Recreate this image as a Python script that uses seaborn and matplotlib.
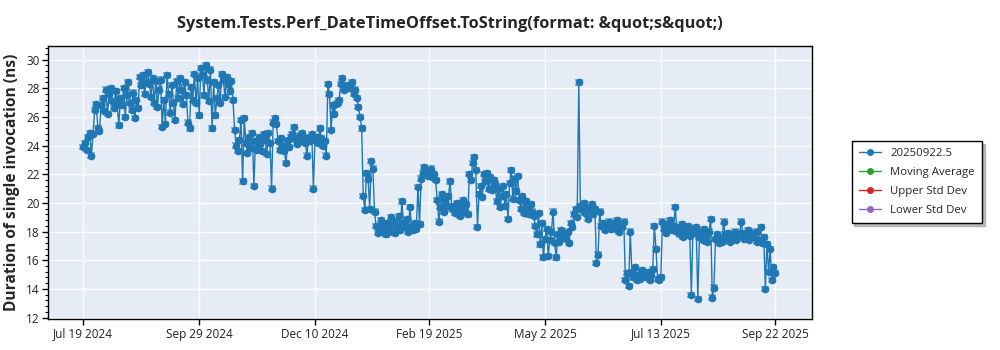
import numpy as np
import pandas as pd
import matplotlib
matplotlib.use("Agg")
import matplotlib.pyplot as plt
import matplotlib.dates as mdates
from matplotlib.ticker import MultipleLocator, AutoMinorLocator
from matplotlib.lines import Line2D
import seaborn as sns

TITLE = "System.Tests.Perf_DateTimeOffset.ToString(format: &quot;s&quot;)"
Y_LABEL = "Duration of single invocation (ns)"
SERIES_NAME = "20250922.5"
LEGEND_LABELS = ["20250922.5", "Moving Average", "Upper Std Dev", "Lower Std Dev"]
LEGEND_COLORS = ["#1f77b4", "#2ca02c", "#d62728", "#9467bd"]
START_DATE = "2024-07-19"
X_TICKS = ["2024-07-19", "2024-09-29", "2024-12-10", "2025-02-19",
           "2025-05-02", "2025-07-13", "2025-09-22"]
X_TICK_LABELS = ["Jul 19 2024", "Sep 29 2024", "Dec 10 2024", "Feb 19 2025",
                 "May 2 2025", "Jul 13 2025", "Sep 22 2025"]
X_LIMITS = ["2024-06-27", "2025-10-15"]
Y_LIMITS = [11.89, 30.93]
ERR = 0.15

# one value per day
values = [
    23.9, 24.2, 23.7, 24.6, 24.9, 23.3, 24.8, 26.5, 26.9, 25.2,
    25.0, 26.8, 27.3, 26.4, 27.9, 26.2, 27.6, 28.0, 27.1, 26.6,
    27.8, 26.9, 25.4, 27.3, 26.8, 28.0, 26.0, 27.5, 28.4, 27.0,
    26.5, 27.7, 25.9, 27.2, 26.6, 28.8, 28.2, 28.9, 27.6, 28.4,
    29.1, 28.3, 27.4, 28.7, 27.0, 28.5, 26.7, 27.9, 28.6, 25.3,
    27.2, 25.5, 28.9, 27.6, 26.3, 28.2, 27.0, 25.8, 28.5, 27.3,
    28.7, 27.9, 26.9, 28.4, 27.5, 25.6, 25.2, 28.1, 27.2, 29.0,
    27.0, 28.7, 26.1, 29.4, 28.9, 27.5, 29.6, 28.6, 27.1, 29.3,
    25.2, 28.4, 26.1, 27.3, 28.2, 27.0, 29.0, 28.6, 27.4, 28.8,
    28.3, 27.8, 28.5, 27.2, 25.1, 24.0, 23.6, 24.4, 25.8, 21.5,
    25.9, 24.2, 23.5, 24.6, 23.8, 24.9, 21.2, 24.3, 23.7, 24.6,
    24.1, 23.6, 24.8, 24.4, 23.4, 24.9, 24.2, 21.0, 25.6, 25.9,
    25.5, 24.3, 23.7, 24.5, 24.0, 23.6, 22.8, 24.4, 23.9, 24.6,
    24.8, 25.3, 24.4, 24.1, 24.7, 24.3, 24.9, 24.5, 24.2, 23.3,
    24.6, 24.3, 24.8, 21.0, 24.4, 24.6, 24.2, 25.2, 24.5, 24.0,
    24.3, 23.3, 28.3, 27.6, 25.1, 26.8, 26.2, 26.9, 27.0, 27.2,
    28.3, 28.7, 27.9, 28.1, 28.2, 28.0, 28.1, 28.4, 27.6, 27.9,
    27.3, 26.7, 26.0, 25.2, 20.5, 19.5, 22.1, 21.7, 19.6, 22.9,
    22.4, 19.4, 18.4, 17.9, 18.3, 18.8, 18.0, 18.5, 17.8, 18.6,
    18.2, 19.0, 18.0, 18.7, 17.9, 18.4, 19.1, 18.1, 20.1, 18.6,
    18.3, 18.9, 18.0, 19.7, 18.4, 18.1, 18.6, 18.2, 21.1, 18.5,
    21.7, 22.1, 22.5, 22.3, 21.9, 22.2, 22.4, 21.8, 22.0, 21.6,
    20.2, 18.7, 19.7, 20.6, 19.4, 20.1, 19.8, 20.5, 21.5, 19.6,
    19.8, 19.3, 20.0, 19.5, 19.1, 19.7, 20.2, 19.4, 19.9, 19.2,
    22.0, 21.6, 22.8, 23.2, 22.3, 18.3, 20.6, 21.2, 20.4, 22.0,
    21.5, 22.1, 21.0, 21.8, 20.9, 21.6, 21.3, 20.1, 21.0, 19.7,
    20.5, 21.2, 19.8, 20.6, 18.9, 21.4, 22.3, 20.3, 21.7, 20.8,
    21.9, 20.2, 19.6, 20.5, 19.3, 20.1, 19.7, 19.2, 19.9, 19.4,
    19.1, 18.4, 17.8, 19.3, 17.1, 18.6, 16.2, 17.5, 18.2, 16.3,
    17.4, 18.0, 19.4, 17.2, 16.2, 17.8, 17.3, 18.1, 17.6, 17.9,
    17.5, 18.0, 17.2, 18.6, 18.3, 19.2, 19.6, 19.0, 28.4, 19.8,
    19.5, 20.0, 19.3, 19.7, 18.9, 19.6, 19.9, 19.2, 19.6, 15.8,
    16.4, 19.4, 18.4, 18.6, 18.1, 18.5, 18.3, 18.7, 18.2, 18.4,
    18.6, 18.2, 18.8, 18.0, 18.5, 18.3, 18.7, 14.6, 15.1, 14.2,
    18.0, 15.2, 14.8, 15.5, 14.6, 15.0, 14.7, 15.3, 14.9, 15.1,
    14.8, 15.2, 14.6, 15.0, 15.4, 18.4, 16.8, 14.7, 14.6, 14.8,
    18.7, 18.2, 17.9, 18.5, 18.3, 18.8, 18.1, 18.4, 19.7, 18.0,
    18.3, 17.8, 18.5, 17.6, 18.1, 17.9, 18.4, 17.7, 13.6, 18.2,
    17.9, 18.3, 13.3, 17.6, 18.0, 17.4, 18.2, 17.7, 17.3, 18.0,
    18.9, 13.4, 14.1, 17.5, 17.8, 17.2, 17.6, 17.3, 18.7, 17.8,
    17.5, 17.9, 17.3, 17.8, 17.6, 18.0, 17.4, 17.7, 17.9, 18.7,
    17.8, 17.5, 17.9, 18.1, 17.4, 17.7, 17.9, 17.6, 18.0, 17.3,
    17.4, 18.3, 17.2, 17.6, 14.0, 17.1, 15.2, 16.8, 14.6, 15.5,
    15.1,
]

dates = pd.date_range(START_DATE, periods=len(values), freq="D")
df = pd.DataFrame({"date": dates, "value": values})

sns.set_theme(style="white")
plt.rcParams["font.family"] = ["Open Sans", "DejaVu Sans"]

fig = plt.figure(figsize=(10, 3.5), dpi=100)
ax = fig.add_axes([0.048, 0.088, 0.764, 0.78])
ax.set_facecolor("#E5ECF6")

color = LEGEND_COLORS[0]
ax.errorbar(df["date"], df["value"], yerr=ERR, fmt="none", ecolor=color,
            elinewidth=1.0, capsize=3, capthick=1.2, alpha=0.6, zorder=3)
sns.lineplot(data=df, x="date", y="value", ax=ax, color=color, linewidth=1.0,
             marker="o", markersize=5.5, markeredgewidth=0, zorder=4, legend=False)

ax.set_xlim(pd.Timestamp(X_LIMITS[0]), pd.Timestamp(X_LIMITS[1]))
ax.set_ylim(*Y_LIMITS)
ax.set_xticks([pd.Timestamp(t) for t in X_TICKS])
ax.set_xticklabels(X_TICK_LABELS)
ax.yaxis.set_major_locator(MultipleLocator(2))
ax.yaxis.set_minor_locator(AutoMinorLocator(5))

ax.grid(True, which="major", color="white", linewidth=1.0)
ax.set_axisbelow(True)
for s in ax.spines.values():
    s.set_color("black")
    s.set_linewidth(1.0)
ax.tick_params(axis="both", which="major", direction="out", length=4, width=1,
               color="black", labelsize=8.5, labelcolor="#222222", left=True, bottom=True, pad=2)
ax.tick_params(axis="y", which="minor", direction="out", length=2, width=0.8,
               color="black", left=True)
ax.set_xlabel("")
ax.set_ylabel(Y_LABEL, fontsize=11.2, fontweight="bold", labelpad=4)

fig.suptitle(TITLE, x=0.45, y=0.955, fontsize=11.8, fontweight="bold")

handles = [Line2D([0], [0], color=c, marker="o", markersize=4, linewidth=1.0)
           for c in LEGEND_COLORS]
leg = fig.legend(handles, LEGEND_LABELS, loc="upper left",
                 bbox_to_anchor=(0.846, 0.612), fontsize=8.2, frameon=True,
                 fancybox=False,
                 shadow={"color": "#aaaaaa", "alpha": 0.8},
                 handlelength=2.0, borderpad=0.6, labelspacing=0.7)
leg.get_frame().set_edgecolor("black")
leg.get_frame().set_linewidth(1.0)

fig.savefig("out.png", dpi=100)
